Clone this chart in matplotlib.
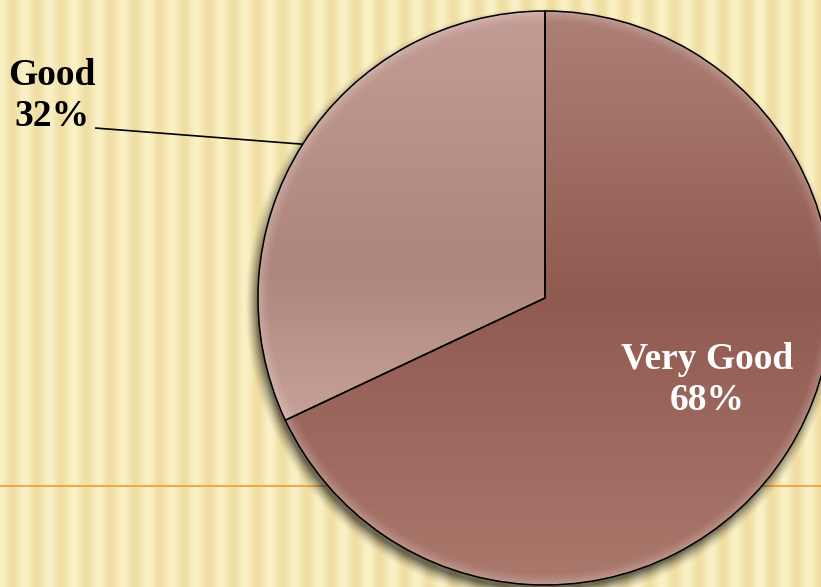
import numpy as np
import matplotlib
matplotlib.use('Agg')
import matplotlib.pyplot as plt
from matplotlib.colors import LinearSegmentedColormap

# data
labels = ['Very Good', 'Good']
shares = [68, 32]
label_colors = ['white', 'black']

# gradient stops per slice (top, middle, bottom of the pie box)
slice_grads = [
    [(0.0, '#ae8075'), (0.5, '#905a50'), (1.0, '#ab786c')],
    [(0.0, '#c39c94'), (0.45, '#ad857b'), (0.72, '#c8a29a'), (1.0, '#c8a29a')],
]

W, H = 821, 587
cx, cy, R = 545, H - 298, 287

fig = plt.figure(figsize=(8.21, 5.87), dpi=100)
ax = fig.add_axes([0, 0, 1, 1])

# striped paper background
xs = np.arange(W)
v = 0.5 + 0.5 * np.cos(2 * np.pi * xs / 24.5)
light = np.array([251, 241, 198]) / 255
dark = np.array([240, 222, 164]) / 255
row = dark + (light - dark) * v[:, None]
bg = np.repeat(row[None, :, :], 2, axis=0)
ax.imshow(bg, extent=(0, W, 0, H), aspect='auto', zorder=0, interpolation='bilinear')

# orange rule line
ax.axhline(H - 486, color='#f0a23a', lw=1.3, zorder=1)

# soft shadow under the pie
gx, gy = np.meshgrid(np.arange(W) + 0.5, np.arange(H) + 0.5)
ds = np.hypot(gx - (cx - 3), (H - gy) - (cy - 7))
a = np.clip(1 - (ds - R + 3) / 14.0, 0, 1) ** 1.6 * 0.55
shadow = np.zeros((H, W, 4))
shadow[..., 3] = a
ax.imshow(shadow, extent=(0, W, 0, H), origin='upper', aspect='auto', zorder=2)

wedges, _ = ax.pie(shares, colors=['#9a655b', '#b48c83'], startangle=90,
                   counterclock=False, radius=R, center=(cx, cy),
                   wedgeprops=dict(linewidth=0), frame=True)
for w in wedges:
    w.set_zorder(3)

grad = np.linspace(0, 1, 300)[:, None] * np.ones((1, 2))
for w, stops in zip(wedges, slice_grads):
    cmap = LinearSegmentedColormap.from_list('s', stops)
    im = ax.imshow(grad, extent=(cx - R, cx + R, cy - R, cy + R), origin='upper',
                   cmap=cmap, aspect='auto', zorder=4, interpolation='bilinear')
    im.set_clip_path(w)

# light rim just inside the outline
n = 600
rx, ry = np.meshgrid(np.linspace(-1, 1, n), np.linspace(-1, 1, n))
d = np.hypot(rx, ry)
rim = np.ones((n, n, 4))
rim[..., 3] = np.clip((d - 0.955) / 0.045, 0, 1) ** 1.5 * 0.25
rim[d > 1] = 0
im = ax.imshow(rim, extent=(cx - R, cx + R, cy - R, cy + R), aspect='auto',
               zorder=5, interpolation='bilinear')
im.set_clip_path(plt.Circle((cx, cy), R, transform=ax.transData))

# outlines on top
edges, _ = ax.pie(shares, startangle=90, counterclock=False, radius=R,
                  center=(cx, cy), frame=True,
                  wedgeprops=dict(fill=False, edgecolor='black', linewidth=1.1))
for e in edges:
    e.set_zorder(6)

font = dict(family='Liberation Serif', fontsize=27, fontweight='bold')

ax.text(707, H - 380, f'{labels[0]}\n{shares[0]}%', color=label_colors[0],
        ha='center', va='center', linespacing=1.2, zorder=7, **font)
ax.text(52, H - 96, f'{labels[1]}\n{shares[1]}%', color=label_colors[1],
        ha='center', va='center', linespacing=1.2, zorder=7, **font)

# leader line from the Good label to its slice
mid = np.deg2rad((wedges[1].theta1 + wedges[1].theta2) / 2)
ex, ey = cx + R * np.cos(mid), cy + R * np.sin(mid)
ax.plot([95, ex], [H - 128, ey], color='black', lw=1.2, zorder=7,
        solid_capstyle='butt')

ax.set_xlim(0, W)
ax.set_ylim(0, H)
ax.set_aspect('auto')
ax.axis('off')

fig.savefig('out.png', dpi=100)
